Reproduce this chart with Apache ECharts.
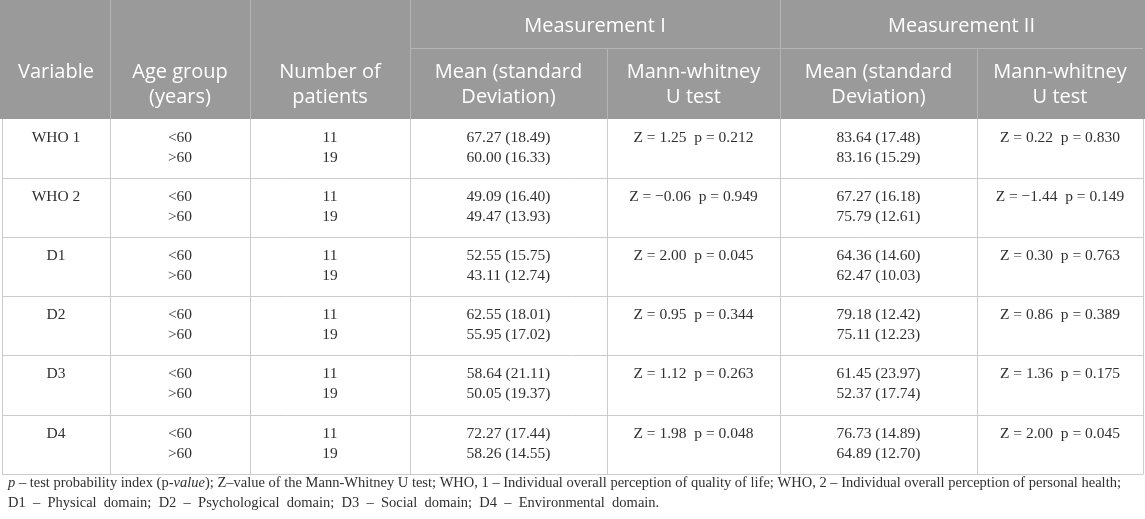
<!DOCTYPE html>
<html>
<head>
<meta charset="utf-8">
<script src="https://cdn.jsdelivr.net/npm/echarts@6/dist/echarts.min.js"></script>
<style>
  html, body { margin: 0; padding: 0; background: #fff; }
  #chart { width: 1145px; height: 519px; }
</style>
</head>
<body>
<div id="chart"></div>
<script>
// ---- data ----
const variables = ['WHO 1', 'WHO 2', 'D1', 'D2', 'D3', 'D4'];
const ageGroups = ['<60', '>60'];
const patients = [11, 19];

// Measurement I: mean / SD for <60 and >60
const meanI_lt = [67.27, 49.09, 52.55, 62.55, 58.64, 72.27];
const sdI_lt   = [18.49, 16.40, 15.75, 18.01, 21.11, 17.44];
const meanI_gt = [60.00, 49.47, 43.11, 55.95, 50.05, 58.26];
const sdI_gt   = [16.33, 13.93, 12.74, 17.02, 19.37, 14.55];
const zI = [1.25, -0.06, 2.00, 0.95, 1.12, 1.98];
const pI = [0.212, 0.949, 0.045, 0.344, 0.263, 0.048];

// Measurement II
const meanII_lt = [83.64, 67.27, 64.36, 79.18, 61.45, 76.73];
const sdII_lt   = [17.48, 16.18, 14.60, 12.42, 23.97, 14.89];
const meanII_gt = [83.16, 75.79, 62.47, 75.11, 52.37, 64.89];
const sdII_gt   = [15.29, 12.61, 10.03, 12.23, 17.74, 12.70];
const zII = [0.22, -1.44, 0.30, 0.86, 1.36, 2.00];
const pII = [0.830, 0.149, 0.763, 0.389, 0.175, 0.045];

const groupHeaders = ['Measurement I', 'Measurement II'];
const colHeaders = [
  ['Variable'], ['Age group', '(years)'], ['Number of', 'patients'],
  ['Mean (standard', 'Deviation)'], ['Mann-whitney', 'U test'],
  ['Mean (standard', 'Deviation)'], ['Mann-whitney', 'U test']
];

// ---- layout ----
const colX = [2, 110, 250, 410, 607, 780, 977, 1143];
const headTop = 0, headMid = 48, headBot = 119;
const rowH = 59.1;
const headGray = '#9a9a9a';
const headLine = '#b4b4b4';
const bodyLine = '#cbcbcb';
const textColor = '#303030';
const headFont = '"Open Sans", "Noto Sans", sans-serif';
const bodyFont = '"Liberation Serif", "DejaVu Serif", serif';

function zText(z, p) {
  return 'Z = ' + (z < 0 ? '\u2212' : '') + Math.abs(z).toFixed(2) + '  p = ' + p.toFixed(3);
}
function msd(m, s) { return m.toFixed(2) + ' (' + s.toFixed(2) + ')'; }

const els = [];
function line(x1, y1, x2, y2, color) {
  els.push({ type: 'line', shape: { x1: x1, y1: y1, x2: x2, y2: y2 },
    style: { stroke: color, lineWidth: 1 }, silent: true });
}
function text(x, y, str, opt) {
  els.push({ type: 'text', x: x, y: y, silent: true, style: Object.assign({
    text: str, align: 'center', verticalAlign: 'middle',
    fill: textColor, font: '15.5px ' + bodyFont
  }, opt || {}) });
}
function cx(i) { return (colX[i] + colX[i + 1]) / 2; }

// header background
els.push({ type: 'rect', shape: { x: 0, y: headTop, width: 1145, height: headBot - headTop },
  style: { fill: headGray }, silent: true });
// header lines
line(colX[3], headMid + 0.5, colX[7], headMid + 0.5, headLine);
[1, 2, 3, 5].forEach(function (i) { line(colX[i] + 0.5, headTop, colX[i] + 0.5, headBot, headLine); });
[4, 6].forEach(function (i) { line(colX[i] + 0.5, headMid, colX[i] + 0.5, headBot, headLine); });

const hStyle = { fill: '#ffffff', font: '20px ' + headFont };
text((colX[3] + colX[5]) / 2, 26, groupHeaders[0], hStyle);
text((colX[5] + colX[7]) / 2, 26, groupHeaders[1], hStyle);
colHeaders.forEach(function (lines, i) {
  lines.forEach(function (t, k) { text(cx(i), 72 + k * 25, t, hStyle); });
});

// body
variables.forEach(function (v, r) {
  const top = headBot + r * rowH;
  const y1 = top + 19, y2 = top + 39;
  text(cx(0), y1, v);
  ageGroups.forEach(function (a, k) { text(cx(1), k ? y2 : y1, a); });
  patients.forEach(function (n, k) { text(cx(2), k ? y2 : y1, String(n)); });
  text(cx(3), y1, msd(meanI_lt[r], sdI_lt[r]));
  text(cx(3), y2, msd(meanI_gt[r], sdI_gt[r]));
  text(cx(4), y1, zText(zI[r], pI[r]));
  text(cx(5), y1, msd(meanII_lt[r], sdII_lt[r]));
  text(cx(5), y2, msd(meanII_gt[r], sdII_gt[r]));
  text(cx(6), y1, zText(zII[r], pII[r]));
  line(colX[0], Math.round(top + rowH) + 0.5, colX[7], Math.round(top + rowH) + 0.5, bodyLine);
});
const bodyBot = Math.round(headBot + variables.length * rowH) + 0.5;
colX.forEach(function (x) { line(x + 0.5, headBot, x + 0.5, bodyBot, bodyLine); });

// footnote
const noteFont = '14.5px ' + bodyFont;
els.push({ type: 'text', x: 8, y: 483, silent: true, style: {
  text: '{i|p} \u2013 test probability index (p-{i|value}); Z\u2013value of the Mann-Whitney U test; WHO, 1 \u2013 Individual overall perception of quality of life; WHO, 2 \u2013 Individual overall perception of personal health;',
  align: 'left', verticalAlign: 'middle', fill: textColor, font: noteFont,
  rich: { i: { fontStyle: 'italic', fontFamily: bodyFont, fontSize: 14.5, fill: textColor } }
} });
els.push({ type: 'text', x: 8, y: 503, silent: true, style: {
  text: 'D1  \u2013  Physical  domain;  D2  \u2013  Psychological  domain;  D3  \u2013  Social  domain;  D4  \u2013  Environmental  domain.',
  align: 'left', verticalAlign: 'middle', fill: textColor, font: noteFont
} });

const chart = echarts.init(document.getElementById('chart'), null, { renderer: 'canvas' });
chart.setOption({ animation: false, graphic: { elements: els } });
</script>
</body>
</html>
